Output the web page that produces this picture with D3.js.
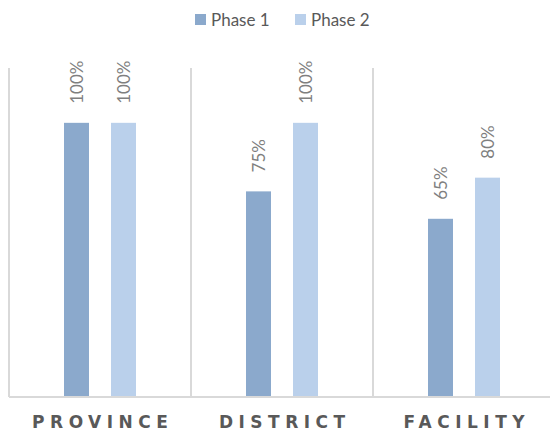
<!DOCTYPE html>
<html>
<head>
<meta charset="utf-8">
<script src="https://cdn.jsdelivr.net/npm/d3@7"></script>
<style>
  html, body { margin: 0; padding: 0; background: #fff; }
  svg { display: block; font-family: "Lato", "Open Sans", sans-serif; }
  .cat-label { font-family: "DejaVu Sans", sans-serif; font-weight: bold; font-size: 17px; letter-spacing: 5.5px; fill: #595959; }
</style>
</head>
<body>
<svg id="chart" width="550" height="434"></svg>
<script>
// Coverage by level, two phases
const categories = ["PROVINCE", "DISTRICT", "FACILITY"];
const phases = ["Phase 1", "Phase 2"];
const phase1 = [1.00, 0.75, 0.65];
const phase2 = [1.00, 1.00, 0.80];
const valueLabels1 = ["100%", "75%", "65%"];
const valueLabels2 = ["100%", "100%", "80%"];

const colors = { "Phase 1": "#8BA9CC", "Phase 2": "#BAD0EB" };

const svg = d3.select("#chart");
const plot = { left: 9, right: 555, top: 68, bottom: 397 };

const x0 = d3.scaleBand().domain(categories).range([plot.left, plot.right]).padding(0);
const x1 = d3.scaleBand().domain(phases).range([0, x0.bandwidth()])
  .paddingInner(0.468).paddingOuter(1.17);
const y = d3.scaleLinear().domain([0, 1.2]).range([plot.bottom, plot.top]);

const rows = categories.map((c, i) => ({
  category: c,
  values: [
    { phase: "Phase 1", v: phase1[i], label: valueLabels1[i] },
    { phase: "Phase 2", v: phase2[i], label: valueLabels2[i] }
  ]
}));

// vertical separators between categories
svg.append("g").selectAll("line")
  .data(categories)
  .join("line")
  .attr("x1", d => x0(d)).attr("x2", d => x0(d))
  .attr("y1", plot.top).attr("y2", plot.bottom)
  .attr("stroke", "#D9D9D9").attr("stroke-width", 2);

// bars and value labels
const groups = svg.append("g").selectAll("g")
  .data(rows)
  .join("g")
  .attr("transform", d => `translate(${x0(d.category)},0)`);

groups.selectAll("rect")
  .data(d => d.values)
  .join("rect")
  .attr("x", d => x1(d.phase))
  .attr("width", x1.bandwidth())
  .attr("y", d => y(d.v))
  .attr("height", d => y(0) - y(d.v))
  .attr("fill", d => colors[d.phase]);

groups.selectAll("text")
  .data(d => d.values)
  .join("text")
  .attr("transform", d => `translate(${x1(d.phase) + x1.bandwidth() / 2},${y(d.v) - 19}) rotate(-90)`)
  .attr("dominant-baseline", "central")
  .attr("text-anchor", "start")
  .attr("font-size", 17)
  .attr("fill", "#7F7F7F")
  .text(d => d.label);

// baseline axis
svg.append("line")
  .attr("x1", plot.left).attr("x2", 550)
  .attr("y1", plot.bottom).attr("y2", plot.bottom)
  .attr("stroke", "#D9D9D9").attr("stroke-width", 2);

// category labels
const xAxis = d3.axisBottom(x0).tickSize(0).tickPadding(0);
const axisG = svg.append("g")
  .attr("transform", `translate(0,${plot.bottom})`)
  .call(xAxis);
axisG.select(".domain").remove();
axisG.attr("font-family", null).attr("font-size", null);
axisG.selectAll("text")
  .attr("class", "cat-label")
  .attr("fill", null)
  .attr("y", 31)
  .attr("dy", 0)
  .attr("dx", "2.75px");

// legend
const legend = svg.append("g");
const legendX = [195, 295];
phases.forEach((p, i) => {
  const g = legend.append("g").attr("transform", `translate(${legendX[i]},14)`);
  g.append("rect").attr("width", 11).attr("height", 11).attr("fill", colors[p]);
  g.append("text")
    .attr("x", 16).attr("y", 5.5)
    .attr("dominant-baseline", "central")
    .attr("font-size", 17)
    .attr("fill", "#595959")
    .text(p);
});
</script>
</body>
</html>
